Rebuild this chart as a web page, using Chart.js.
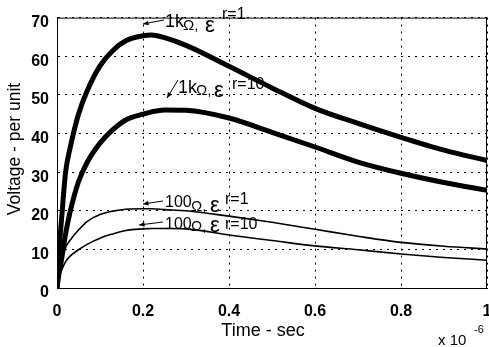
<!DOCTYPE html>
<html>
<head>
<meta charset="utf-8">
<script src="https://cdn.jsdelivr.net/npm/chart.js@4"></script>
<style>
  body { margin: 0; background: #fff; }
  #wrap { width: 489px; height: 347px; }
</style>
</head>
<body>
<div id="wrap"><canvas id="voltChart" width="489" height="347"></canvas></div>
<script>
// time axis, in microseconds (x 10^-6 s)
var time = [0, 0.005, 0.01, 0.02, 0.03, 0.05, 0.07, 0.1, 0.13, 0.16, 0.2, 0.22, 0.25, 0.3, 0.4, 0.5, 0.6, 0.7, 0.8, 0.9, 1.0];

// voltage, per unit
var v1k_er1   = [0, 10, 17, 30, 36, 45, 51, 57.5, 61.5, 64, 65.3, 65.5, 64.8, 62.8, 57.4, 51.8, 46.5, 42.6, 39, 35.7, 33];
var v1k_er10  = [0, 4, 7, 14, 19.5, 27.5, 32.5, 37.5, 41, 43.5, 45, 45.6, 46.1, 46, 44, 40.3, 36.5, 32.6, 29.7, 27.3, 25.3];
var v100_er1  = [0, 4, 7, 10.5, 12.3, 15, 17.2, 19, 19.9, 20.4, 20.5, 20.5, 20.3, 20, 18.6, 17, 15.2, 13.4, 11.8, 10.8, 10.1];
var v100_er10 = [0, 3, 4.5, 6.8, 8.2, 9.9, 11.3, 12.9, 14, 14.9, 15.3, 15.4, 15.4, 15.3, 13.7, 12.3, 10.9, 9.9, 8.8, 7.9, 7.2];

var xTicks = [0, 0.2, 0.4, 0.6, 0.8, 1];
var yTicks = [0, 10, 20, 30, 40, 50, 60, 70];

function pts(vals) {
  return time.map(function(t, i) { return {x: t, y: vals[i]}; });
}

var FONT = '"Liberation Sans", Arial, sans-serif';

// labels with arrows, like the matlab annotations
var notes = [
  {x: 165, num: '1k',  ns: 18, sup: 'r=1',  yNum: 27,  yOm: 30,  yEps: 32,  ySup: 19,  omDx: 18, epsDx: 40, supDx: 57, tail: [164, 20], tip: [143, 24]},
  {x: 178, num: '1k',  ns: 18, sup: 'r=10', yNum: 93,  yOm: 95,  yEps: 97,  ySup: 89,  omDx: 18, epsDx: 36, supDx: 54, tail: [178, 80], tip: [167, 98]},
  {x: 165, num: '100', ns: 16, sup: 'r=1',  yNum: 207, yOm: 211, yEps: 212, ySup: 204, omDx: 26, epsDx: 45, supDx: 60, tail: [163, 201], tip: [143, 204]},
  {x: 165, num: '100', ns: 16, sup: 'r=10', yNum: 229, yOm: 231, yEps: 232, ySup: 229, omDx: 26, epsDx: 45, supDx: 60, tail: [163, 222], tip: [139, 225]}
];

function arrow(ctx, a, b) {
  ctx.beginPath();
  ctx.moveTo(a[0], a[1]);
  ctx.lineTo(b[0], b[1]);
  ctx.stroke();
  var ang = Math.atan2(b[1] - a[1], b[0] - a[0]);
  ctx.beginPath();
  ctx.moveTo(b[0], b[1]);
  ctx.lineTo(b[0] - 6 * Math.cos(ang - 0.4), b[1] - 6 * Math.sin(ang - 0.4));
  ctx.lineTo(b[0] - 6 * Math.cos(ang + 0.4), b[1] - 6 * Math.sin(ang + 0.4));
  ctx.closePath();
  ctx.fill();
}

var extras = {
  id: 'extras',
  afterDraw: function(chart) {
    var ctx = chart.ctx, a = chart.chartArea;
    ctx.save();
    ctx.strokeStyle = '#000';
    ctx.fillStyle = '#000';
    ctx.lineWidth = 1;
    ctx.setLineDash([]);
    ctx.strokeRect(a.left + 0.5, a.top + 0.5, a.right - a.left - 1, a.bottom - a.top);

    notes.forEach(function(n) {
      arrow(ctx, n.tail, n.tip);
      ctx.textAlign = 'left';
      ctx.textBaseline = 'alphabetic';
      ctx.font = n.ns + 'px ' + FONT;
      ctx.fillText(n.num, n.x, n.yNum);
      ctx.font = '15px ' + FONT;
      ctx.fillText('\u03A9,', n.x + n.omDx, n.yOm);
      ctx.font = '22px ' + FONT;
      ctx.fillText('\u03B5', n.x + n.epsDx, n.yEps);
      ctx.font = '16px ' + FONT;
      ctx.fillText(n.sup, n.x + n.supDx, n.ySup);
    });

    // axis titles
    ctx.font = '18px ' + FONT;
    ctx.textAlign = 'center';
    ctx.fillText('Time - sec', 263, 336);
    ctx.save();
    ctx.translate(20, 149);
    ctx.rotate(-Math.PI / 2);
    ctx.font = '17.5px ' + FONT;
    ctx.fillText('Voltage - per unit', 0, 0);
    ctx.restore();

    ctx.textAlign = 'left';
    ctx.font = '15px ' + FONT;
    ctx.fillText('x 10', 438, 345);
    ctx.font = '11px ' + FONT;
    ctx.fillText('-6', 474, 333);
    ctx.restore();
  }
};

function ds(vals, w) {
  return {
    data: pts(vals),
    borderColor: '#000',
    borderWidth: w,
    pointRadius: 0,
    cubicInterpolationMode: 'monotone',
    fill: false
  };
}

var ctxV = document.getElementById('voltChart');
var voltChart = new Chart(ctxV, {
  type: 'line',
  data: {
    datasets: [ds(v1k_er1, 5), ds(v1k_er10, 5), ds(v100_er1, 1.6), ds(v100_er10, 1.6)]
  },
  options: {
    responsive: false,
    animation: false,
    devicePixelRatio: 1,
    layout: { padding: { top: 10, right: 2, left: 0, bottom: 0 } },
    plugins: { legend: { display: false }, tooltip: { enabled: false } },
    scales: {
      x: {
        type: 'linear',
        min: 0, max: 1,
        afterBuildTicks: function(s) { s.ticks = xTicks.map(function(v) { return {value: v}; }); },
        afterFit: function(s) { s.height = 59; s.paddingLeft = 0; s.paddingRight = 0; },
        ticks: {
          color: '#000',
          font: { family: FONT, size: 16, weight: 'bold' },
          padding: 14,
          maxRotation: 0,
          autoSkip: false,
          callback: function(v) { return String(Math.round(v * 10) / 10); }
        },
        grid: { color: '#000', lineWidth: 1, drawTicks: false },
        border: { display: true, color: '#000', dash: [2, 5] }
      },
      y: {
        min: 0, max: 70,
        afterBuildTicks: function(s) { s.ticks = yTicks.map(function(v) { return {value: v}; }); },
        afterFit: function(s) { s.width = 57; },
        ticks: {
          color: '#000',
          font: { family: FONT, size: 16, weight: 'bold' },
          padding: 8,
          labelOffset: 5,
          autoSkip: false
        },
        grid: { color: '#000', lineWidth: 1, drawTicks: false },
        border: { display: true, color: '#000', dash: [2, 5] }
      }
    }
  },
  plugins: [extras]
});
</script>
</body>
</html>
